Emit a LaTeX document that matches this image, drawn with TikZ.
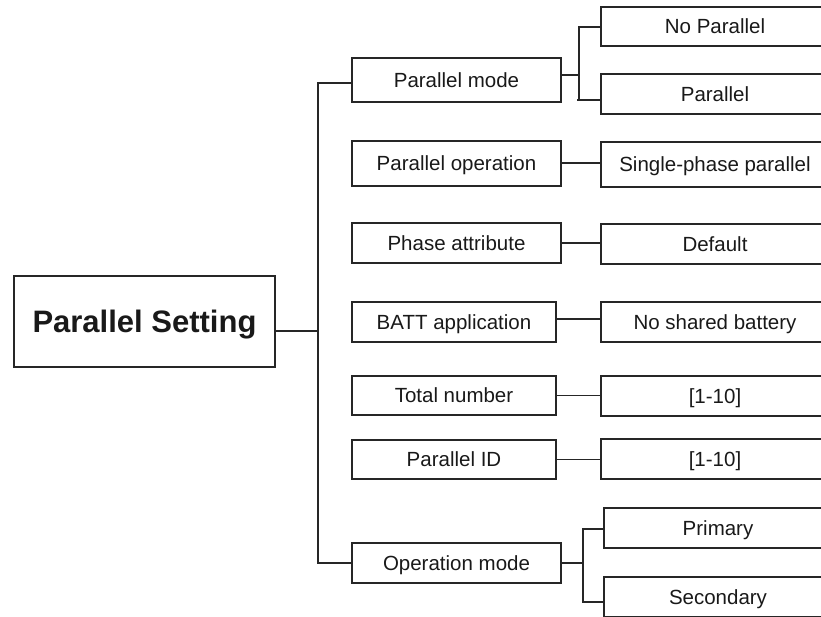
\documentclass[tikz,border=0pt]{standalone}
\usepackage{fontspec}
\setmainfont{Liberation Sans}
\begin{document}
\begin{tikzpicture}[x=1pt,y=-1pt,
  box/.style={draw=black!85, line width=1.2pt, inner sep=0pt, text=black!90,
    font=\fontsize{20.5}{24}\selectfont, text height=14.8pt, text depth=0pt},
  rootbox/.style={box, font=\fontsize{31}{36}\selectfont\bfseries, text height=22.3pt},
  link/.style={draw=black!85, line width=1.2pt}]
\useasboundingbox (0,0) rectangle (821,616);
% root
\node[rootbox, minimum width=261pt, minimum height=91pt] (root) at (144.5,321.5) {Parallel Setting};
% middle column
\node[box, minimum width=209pt, minimum height=44pt] (pm)  at (456.5,80)   {Parallel mode};
\node[box, minimum width=209pt, minimum height=45pt] (po)  at (456.5,163.5) {Parallel operation};
\node[box, minimum width=209pt, minimum height=40pt] (pa)  at (456.5,243)  {Phase attribute};
\node[box, minimum width=204pt, minimum height=40pt] (ba)  at (454,322)    {BATT application};
\node[box, minimum width=204pt, minimum height=39pt] (tn)  at (454,395.5)  {Total number};
\node[box, minimum width=204pt, minimum height=39pt] (pid) at (454,459.5)  {Parallel ID};
\node[box, minimum width=209pt, minimum height=40pt] (om)  at (456.5,563)  {Operation mode};
% right column
\node[box, minimum width=228pt, minimum height=39pt] (np)  at (715,26.5)  {No Parallel};
\node[box, minimum width=228pt, minimum height=40pt] (par) at (715,94)    {Parallel};
\node[box, minimum width=228pt, minimum height=45pt] (spp) at (715,164.5) {Single-phase parallel};
\node[box, minimum width=228pt, minimum height=40pt] (def) at (715,244)   {Default};
\node[box, minimum width=228pt, minimum height=40pt] (nsb) at (715,322)   {No shared battery};
\node[box, minimum width=228pt, minimum height=40pt] (ra)  at (715,396)   {[1-10]};
\node[box, minimum width=228pt, minimum height=40pt] (rb)  at (715,459)   {[1-10]};
\node[box, minimum width=228pt, minimum height=40pt] (pri) at (718,528)   {Primary};
\node[box, minimum width=228pt, minimum height=40pt] (sec) at (718,597)   {Secondary};
% trunk
\coordinate (tA) at (318,83);
\coordinate (tR) at (318,331);
\coordinate (tB) at (318,563);
\draw[link] (root.east |- tR) -- (tR);
\draw[link] (pm.west |- tA) -- (tA) -- (tB) -- (om.west |- tB);
% parallel mode branch
\coordinate (bM) at (579,75);
\coordinate (bT) at (579,27);
\coordinate (bB) at (579,100);
\draw[link] (pm.east |- bM) -- (bM);
\draw[link] (np.west |- bT) -- (bT) -- (bB) -- (par.west |- bB);
\draw[link] (bB) -- ++(-2,0);
% operation mode branch
\coordinate (oM) at (583,563);
\coordinate (oT) at (583,529);
\coordinate (oB) at (583,602);
\draw[link] (om.east) -- (oM);
\draw[link] (pri.west |- oT) -- (oT) -- (oB) -- (sec.west |- oB);
% single links
\draw[link] ([yshift=0.5pt]po.east) -- ([yshift=0.5pt]po.east -| spp.west);
\draw[link] (pa.east) -- (pa.east -| def.west);
\draw[link] ([yshift=3pt]ba.east) -- ([yshift=3pt]ba.east -| nsb.west);
\draw[link] (tn.east) -- (tn.east -| ra.west);
\draw[link] (pid.east) -- (pid.east -| rb.west);
\end{tikzpicture}
\end{document}
